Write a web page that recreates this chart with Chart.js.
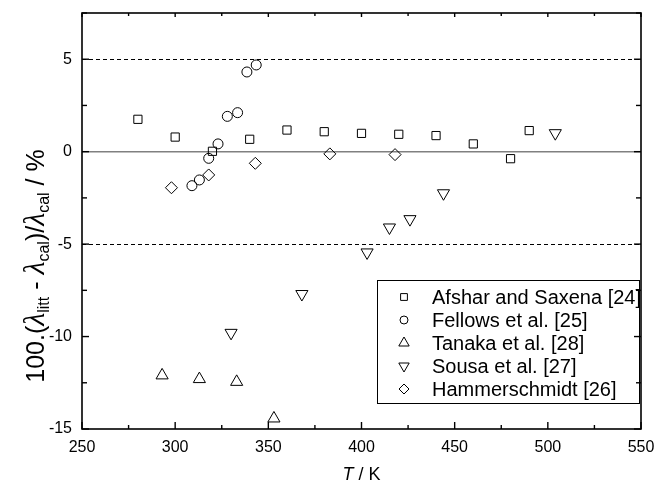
<!DOCTYPE html>
<html>
<head>
<meta charset="utf-8">
<script src="https://cdn.jsdelivr.net/npm/chart.js@4.4.0/dist/chart.umd.min.js"></script>
<style>
  html, body { margin: 0; padding: 0; background: #fff; }
  #wrap { width: 655px; height: 483px; }
</style>
</head>
<body>
<div id="wrap"><canvas id="devChart" width="655" height="483"></canvas></div>
<script>
// data: T / K and deviation / %
const afsharT = [280, 300, 320, 340, 360, 380, 400, 420, 440, 460, 480, 490];
const afsharD = [1.75, 0.79, 0.02, 0.67, 1.17, 1.08, 0.99, 0.94, 0.87, 0.42, -0.38, 1.14];
const fellowsT = [309, 313, 318, 323, 328, 333.5, 338.5, 343.5];
const fellowsD = [-1.84, -1.53, -0.36, 0.42, 1.91, 2.11, 4.31, 4.69];
const tanakaT = [293, 313, 333, 353];
const tanakaD = [-12.1, -12.3, -12.45, -14.43];
const sousaT = [330, 368, 403, 415, 426, 444, 504];
const sousaD = [-9.8, -7.7, -5.45, -4.1, -3.65, -2.25, 1.0];
const hammerT = [298, 318, 343, 383, 418];
const hammerD = [-1.95, -1.26, -0.63, -0.12, -0.16];

const xTicks = [250, 300, 350, 400, 450, 500, 550];
const xMinor = [275, 325, 375, 425, 475, 525];
const yTicks = [-15, -10, -5, 0, 5];
const yMinor = [-12.5, -7.5, -2.5, 2.5, 7.5];
const dashedLevels = [5, -5];

const pts = (xs, ys) => xs.map((x, i) => ({ x: x, y: ys[i] }));

function series(label, xs, ys, style, radius, rotation) {
  return {
    label: label,
    data: pts(xs, ys),
    pointStyle: style,
    pointRadius: radius,
    pointHoverRadius: radius,
    rotation: rotation || 0,
    borderColor: '#000',
    backgroundColor: 'rgba(0,0,0,0)',
    pointBorderWidth: 1,
    showLine: false
  };
}

// no label overhang: keep the plot box where the figure has it
function noOverhang(s) {
  s.paddingTop = 0; s.paddingBottom = 0; s.paddingLeft = 0; s.paddingRight = 0;
}

// reference lines, frame, inward ticks, titles and legend
const decor = {
  id: 'decor',
  beforeDatasetsDraw(chart) {
    const { ctx, chartArea: a, scales: { y } } = chart;
    ctx.save();
    ctx.strokeStyle = '#000';
    ctx.lineWidth = 1;
    ctx.setLineDash([4, 3]);
    dashedLevels.forEach(v => {
      const py = Math.round(y.getPixelForValue(v)) + 0.5;
      ctx.beginPath(); ctx.moveTo(a.left, py); ctx.lineTo(a.right, py); ctx.stroke();
    });
    ctx.setLineDash([]);
    ctx.strokeStyle = '#808080';
    ctx.lineWidth = 1.5;
    const p0 = y.getPixelForValue(0);
    ctx.beginPath(); ctx.moveTo(a.left, p0); ctx.lineTo(a.right, p0); ctx.stroke();
    ctx.restore();
  },
  afterDraw(chart) {
    const { ctx, chartArea: a, scales: { x, y } } = chart;
    ctx.save();
    ctx.strokeStyle = '#000';
    ctx.lineWidth = 1.6;
    ctx.strokeRect(a.left, a.top, a.right - a.left, a.bottom - a.top);

    ctx.lineWidth = 1.4;
    const tick = (x1, y1, x2, y2) => { ctx.beginPath(); ctx.moveTo(x1, y1); ctx.lineTo(x2, y2); ctx.stroke(); };
    xTicks.forEach(v => {
      const px = x.getPixelForValue(v);
      tick(px, a.bottom, px, a.bottom - 7);
      tick(px, a.top, px, a.top + 4);
    });
    xMinor.forEach(v => {
      const px = x.getPixelForValue(v);
      tick(px, a.bottom, px, a.bottom - 4);
      tick(px, a.top, px, a.top + 3);
    });
    yTicks.forEach(v => {
      const py = y.getPixelForValue(v);
      tick(a.left, py, a.left + 7, py);
      tick(a.right, py, a.right - 7, py);
    });
    yMinor.forEach(v => {
      const py = y.getPixelForValue(v);
      tick(a.left, py, a.left + 5, py);
      tick(a.right, py, a.right - 5, py);
    });

    // x title: T / K
    ctx.fillStyle = '#000';
    ctx.textBaseline = 'alphabetic';
    const cx = (a.left + a.right) / 2;
    ctx.font = 'italic 18px "Liberation Sans", Arial, sans-serif';
    const wT = ctx.measureText('T').width;
    ctx.font = '18px "Liberation Sans", Arial, sans-serif';
    const wRest = ctx.measureText(' / K').width;
    let sx = cx - (wT + wRest) / 2;
    ctx.font = 'italic 18px "Liberation Sans", Arial, sans-serif';
    ctx.fillText('T', sx, 480);
    ctx.font = '18px "Liberation Sans", Arial, sans-serif';
    ctx.fillText(' / K', sx + wT, 480);

    // y title: 100.(λlitt - λcal)/λcal / %
    const main = '25px "Liberation Sans", Arial, sans-serif';
    const lam = 'italic 30px "Liberation Serif", serif';
    const sub = '16px "Liberation Sans", Arial, sans-serif';
    const parts = [
      [main, '100.(', 0], [lam, 'λ', 0], [sub, 'litt', 5],
      [main, ' - ', 0], [lam, 'λ', 0], [sub, 'cal', 5],
      [main, ')/', 0], [lam, 'λ', 0], [sub, 'cal', 5],
      [main, ' / %', 0]
    ];
    let total = 0;
    parts.forEach(p => { ctx.font = p[0]; total += ctx.measureText(p[1]).width; });
    ctx.translate(44, 266);
    ctx.rotate(-Math.PI / 2);
    let tx = -total / 2;
    parts.forEach(p => {
      ctx.font = p[0];
      ctx.fillText(p[1], tx, p[2]);
      tx += ctx.measureText(p[1]).width;
    });
    ctx.setTransform(1, 0, 0, 1, 0, 0);

    // legend box inside the plot
    const lx = 377, ly = 280, lw = 262, lh = 123;
    ctx.lineWidth = 1;
    ctx.strokeStyle = '#000';
    ctx.strokeRect(lx + 0.5, ly + 0.5, lw, lh);
    ctx.font = '20px "Liberation Sans", Arial, sans-serif';
    ctx.textBaseline = 'middle';
    chart.data.datasets.forEach((ds, i) => {
      const rowY = 297 + i * 23;
      ctx.strokeStyle = '#000';
      ctx.fillStyle = 'rgba(0,0,0,0)';
      Chart.helpers.drawPoint(ctx, {
        pointStyle: ds.pointStyle,
        rotation: ds.rotation,
        radius: ds.pointRadius - 1,
        borderWidth: 1
      }, 404, rowY);
      ctx.fillStyle = '#000';
      ctx.fillText(ds.label, 432, rowY + 1);
    });
    ctx.restore();
  }
};

const ctx = document.getElementById('devChart').getContext('2d');
new Chart(ctx, {
  type: 'scatter',
  data: {
    datasets: [
      series('Afshar and Saxena [24]', afsharT, afsharD, 'rect', 5.8),
      series('Fellows et al. [25]', fellowsT, fellowsD, 'circle', 5),
      series('Tanaka et al. [28]', tanakaT, tanakaD, 'triangle', 7),
      series('Sousa et al. [27]', sousaT, sousaD, 'triangle', 7, 180),
      series('Hammerschmidt [26]', hammerT, hammerD, 'rectRot', 6)
    ]
  },
  options: {
    responsive: false,
    maintainAspectRatio: false,
    animation: false,
    layout: { padding: { top: 13, right: 14, left: 0, bottom: 0 } },
    scales: {
      x: {
        type: 'linear',
        min: 250,
        max: 550,
        afterBuildTicks: s => { s.ticks = xTicks.map(v => ({ value: v })); },
        afterFit: s => { s.height = 54; noOverhang(s); },
        grid: { display: false, drawTicks: false },
        border: { display: false },
        ticks: {
          padding: 9,
          color: '#000',
          font: { family: '"Liberation Sans", Arial, sans-serif', size: 16 }
        }
      },
      y: {
        type: 'linear',
        min: -15,
        max: 7.5,
        afterBuildTicks: s => { s.ticks = yTicks.map(v => ({ value: v })); },
        afterFit: s => { s.width = 82; noOverhang(s); },
        grid: { display: false, drawTicks: false },
        border: { display: false },
        ticks: {
          padding: 10,
          color: '#000',
          font: { family: '"Liberation Sans", Arial, sans-serif', size: 16 }
        }
      }
    },
    plugins: {
      legend: { display: false },
      tooltip: { enabled: false }
    }
  },
  plugins: [decor]
});
</script>
</body>
</html>
